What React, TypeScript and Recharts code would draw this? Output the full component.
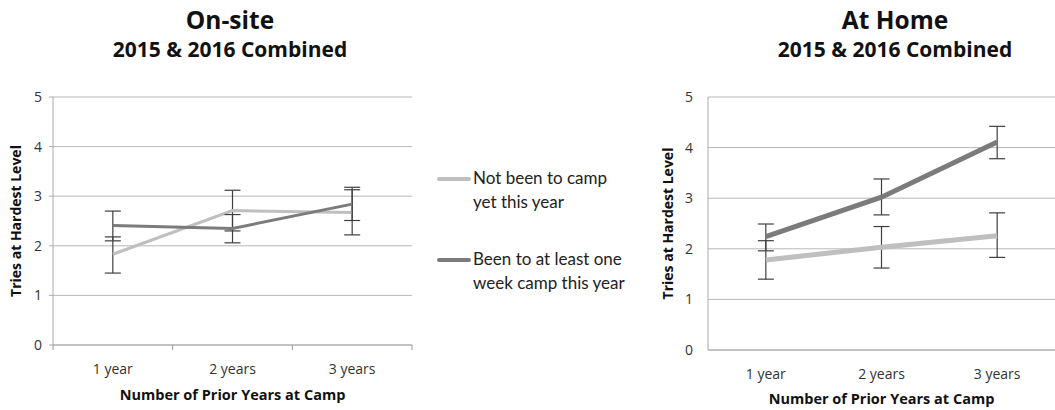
import React from 'react';
import { LineChart, Line, XAxis, YAxis, CartesianGrid, ErrorBar } from 'recharts';

const categories = ['1 year', '2 years', '3 years'];
const yTicks = [0, 1, 2, 3, 4, 5];

// On-site
const onsiteNotYet = [1.83, 2.71, 2.67];
const onsiteNotYetLow = [1.45, 2.30, 2.22];
const onsiteNotYetHigh = [2.18, 3.12, 3.13];
const onsiteBeen = [2.41, 2.35, 2.84];
const onsiteBeenLow = [2.10, 2.06, 2.51];
const onsiteBeenHigh = [2.70, 2.63, 3.18];

// At Home
const homeNotYet = [1.78, 2.03, 2.26];
const homeNotYetLow = [1.40, 1.62, 1.83];
const homeNotYetHigh = [2.16, 2.44, 2.71];
const homeBeen = [2.24, 3.02, 4.11];
const homeBeenLow = [1.96, 2.67, 3.78];
const homeBeenHigh = [2.49, 3.38, 4.42];

const legendNames = ['Not been to camp yet this year', 'Been to at least one week camp this year'];

const LIGHT = '#bfbfbf';
const DARK = '#7b7b7b';
const ERR = '#3f3f3f';
const GRID = '#b8b8b8';
const TICK_FONT = '"Open Sans", sans-serif';
const BOLD_FONT = '"Open Sans", sans-serif';
const LEGEND_FONT = 'Lato, sans-serif';

const buildRows = (
  notYet: number[], notYetLow: number[], notYetHigh: number[],
  been: number[], beenLow: number[], beenHigh: number[]
) =>
  categories.map((c, i) => ({
    cat: c,
    notYet: notYet[i],
    notYetErr: [notYet[i] - notYetLow[i], notYetHigh[i] - notYet[i]],
    been: been[i],
    beenErr: [been[i] - beenLow[i], beenHigh[i] - been[i]],
  }));

const onsiteRows = buildRows(onsiteNotYet, onsiteNotYetLow, onsiteNotYetHigh, onsiteBeen, onsiteBeenLow, onsiteBeenHigh);
const homeRows = buildRows(homeNotYet, homeNotYetLow, homeNotYetHigh, homeBeen, homeBeenLow, homeBeenHigh);

const makeTick = (band: number, withTicks: boolean, dy: number) => (props: any) => {
  const { x, y, payload, index } = props;
  const last = index === categories.length - 1;
  return (
    <g>
      {withTicks && <line x1={x - band / 2} y1={y} x2={x - band / 2} y2={y + 5} stroke="#999" />}
      {withTicks && last && <line x1={x + band / 2} y1={y} x2={x + band / 2} y2={y + 5} stroke="#999" />}
      <text x={x} y={y + dy} textAnchor="middle" fontFamily={TICK_FONT} fontSize={14} fill="#333">
        {payload.value}
      </text>
    </g>
  );
};

type PanelProps = {
  rows: any[];
  width: number;
  yAxisWidth: number;
  right: number;
  bottom: number;
  lineWidth: number;
  leftStyle: boolean;
};

const Panel = ({ rows, width, yAxisWidth, right, bottom, lineWidth, leftStyle }: PanelProps) => {
  const band = (width - yAxisWidth - right) / categories.length;
  return (
    <LineChart width={width} height={410} data={rows} margin={{ top: 97, right, bottom, left: 0 }}>
      <CartesianGrid vertical={false} stroke={GRID} />
      <XAxis
        dataKey="cat"
        scale="band"
        tickLine={false}
        tickSize={0}
        tickMargin={0}
        stroke="#aaa"
        height={bottom === 0 ? 60 : 50}
        interval={0}
        tick={makeTick(band, leftStyle, 29)}
      />
      <YAxis
        width={yAxisWidth}
        domain={[0, 5]}
        ticks={yTicks}
        interval={0}
        stroke="#aaa"
        tickLine={leftStyle}
        tickSize={leftStyle ? 4 : 0}
        tickMargin={leftStyle ? 7 : 15}
        tick={{ fontFamily: TICK_FONT, fontSize: 14, fill: '#333' }}
        label={{
          value: 'Tries at Hardest Level',
          angle: -90,
          position: 'insideLeft',
          offset: leftStyle ? 16 : 28,
          style: { fontFamily: BOLD_FONT, fontWeight: 700, fontSize: 14, fill: '#111', textAnchor: 'middle' },
        }}
      />
      <Line dataKey="notYet" stroke={LIGHT} strokeWidth={lineWidth} dot={false} isAnimationActive={false}>
        <ErrorBar dataKey="notYetErr" width={8} stroke={ERR} strokeWidth={1.2} direction="y" isAnimationActive={false} />
      </Line>
      <Line dataKey="been" stroke={DARK} strokeWidth={lineWidth} dot={false} isAnimationActive={false}>
        <ErrorBar dataKey="beenErr" width={8} stroke={ERR} strokeWidth={1.2} direction="y" isAnimationActive={false} />
      </Line>
    </LineChart>
  );
};

const abs = (left: number, top: number, extra: React.CSSProperties = {}): React.CSSProperties => ({
  position: 'absolute',
  left,
  top,
  ...extra,
});

const titleStyle: React.CSSProperties = { fontFamily: BOLD_FONT, fontWeight: 700, color: '#111', textAlign: 'center' };

const App = () => {
  return (
    <div style={{ position: 'absolute', left: 0, top: 0, width: 1055, height: 410, background: '#fff', overflow: 'hidden' }}>
      {/* titles */}
      <div style={abs(0, 0, { width: 460, ...titleStyle })}>
        <div style={{ fontSize: 24.5, lineHeight: '30px', marginTop: 5 }}>On-site</div>
        <div style={{ fontSize: 21, lineHeight: '26px', marginTop: 1 }}>2015 &amp; 2016 Combined</div>
      </div>
      <div style={abs(735, 0, { width: 320, ...titleStyle })}>
        <div style={{ fontSize: 24.5, lineHeight: '30px', marginTop: 5 }}>At Home</div>
        <div style={{ fontSize: 21, lineHeight: '26px', marginTop: 1 }}>2015 &amp; 2016 Combined</div>
      </div>

      {/* left panel */}
      <div style={abs(0, 0)}>
        <Panel rows={onsiteRows} width={420} yAxisWidth={53} right={8} bottom={15} lineWidth={3} leftStyle={true} />
      </div>
      <div style={abs(53, 385, { width: 359, ...titleStyle, fontSize: 14.5 })}>
        Number of Prior Years at Camp
      </div>

      {/* right panel */}
      <div style={abs(640, 0)}>
        <Panel rows={homeRows} width={415} yAxisWidth={68} right={0} bottom={0} lineWidth={5} leftStyle={false} />
      </div>
      <div style={abs(708, 389, { width: 347, ...titleStyle, fontSize: 14.5 })}>
        Number of Prior Years at Camp
      </div>

      {/* legend */}
      {legendNames.map((name, i) => (
        <div key={name} style={abs(437, 166 + i * 81, { display: 'flex', alignItems: 'flex-start' })}>
          <div style={{ width: 34, height: 4, borderRadius: 2, background: i === 0 ? LIGHT : DARK, marginTop: 11 }} />
          <div style={{ width: 155, fontFamily: LEGEND_FONT, fontSize: 17, lineHeight: '24px', color: '#222', marginLeft: 2 }}>
            {name}
          </div>
        </div>
      ))}
    </div>
  );
};

export default App;
